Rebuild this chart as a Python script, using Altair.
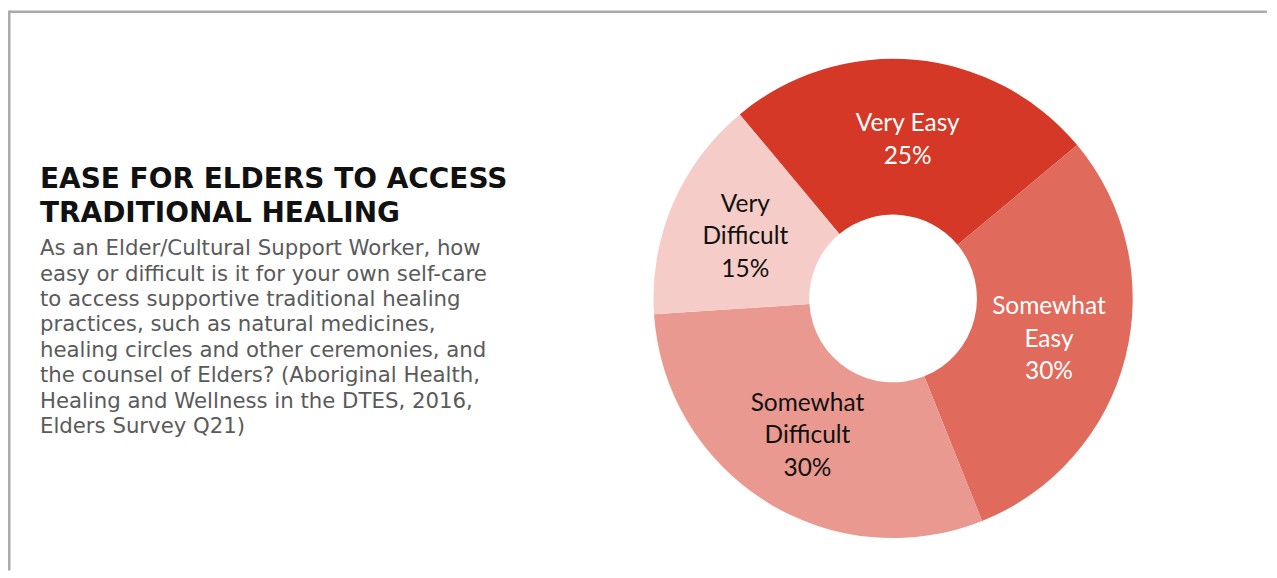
import altair as alt
import pandas as pd

# ---- data ----
categories = ["Very Easy", "Somewhat Easy", "Somewhat Difficult", "Very Difficult"]
values = [25, 30, 30, 15]
slice_labels = ["Very Easy\n25%", "Somewhat\nEasy\n30%", "Somewhat\nDifficult\n30%", "Very\nDifficult\n15%"]
palette = ["#D53826", "#E06A5B", "#E9998F", "#F5CCC7"]
label_colors = ["#FFFFFF", "#FFFFFF", "#111111", "#111111"]

title_lines = ["EASE FOR ELDERS TO ACCESS", "TRADITIONAL HEALING"]
body_lines = [
    "As an Elder/Cultural Support Worker, how",
    "easy or difficult is it for your own self-care",
    "to access supportive traditional healing",
    "practices, such as natural medicines,",
    "healing circles and other ceremonies, and",
    "the counsel of Elders? (Aboriginal Health,",
    "Healing and Wellness in the DTES, 2016,",
    "Elders Survey Q21)",
]

df = pd.DataFrame({
    "category": categories,
    "value": values,
    "label": slice_labels,
    "order": list(range(len(categories))),
})

W, H = 1261, 562
CX, CY = 886.5, 289.5
START = 5.5886
TWO_PI = 6.283185307
LH = 32.5

theta = alt.Theta("value:Q", stack=True, scale=alt.Scale(range=[START, START + TWO_PI]))
order = alt.Order("order:Q", sort="ascending")

arcs = alt.Chart(df).mark_arc(outerRadius=240, innerRadius=84).encode(
    theta=theta,
    order=order,
    color=alt.Color("category:N", scale=alt.Scale(domain=categories, range=palette), legend=None),
    x=alt.value(CX),
    y=alt.value(CY),
)


def label_layer(n_lines):
    return alt.Chart(df).transform_calculate(
        shown=f"length(split(datum.label, '\\n')) == {n_lines} ? datum.label : ''"
    ).mark_text(
        radius=161, font="Lato", fontSize=24.5, lineBreak="\n", lineHeight=LH,
        align="center", baseline="middle", dy=2 - (n_lines - 1) * LH / 2,
    ).encode(
        theta=theta,
        order=order,
        text="shown:N",
        color=alt.Color("category:N", scale=alt.Scale(domain=categories, range=label_colors), legend=None),
        x=alt.value(CX),
        y=alt.value(CY),
    )


labels2 = label_layer(2)
labels3 = label_layer(3)

title = alt.Chart(pd.DataFrame({"t": ["\n".join(title_lines)]})).mark_text(
    font="DejaVu Sans", fontWeight="bold", fontSize=28, color="#111111",
    align="left", baseline="alphabetic", lineBreak="\n", lineHeight=34.5,
).encode(text="t:N", x=alt.value(32), y=alt.value(178.7))

body = alt.Chart(pd.DataFrame({"t": ["\n".join(body_lines)]})).mark_text(
    font="DejaVu Sans", fontSize=21.3, color="#5A5A5A",
    align="left", baseline="alphabetic", lineBreak="\n", lineHeight=25.5,
).encode(text="t:N", x=alt.value(32), y=alt.value(246))

border_top = alt.Chart(pd.DataFrame({"k": [0]})).mark_rule(color="#ABABAB", strokeWidth=2.5).encode(
    x=alt.value(1.3), x2=alt.value(W), y=alt.value(2.3)
)
border_left = alt.Chart(pd.DataFrame({"k": [0]})).mark_rule(color="#ABABAB", strokeWidth=2.5).encode(
    x=alt.value(1.3), y=alt.value(1.0), y2=alt.value(H)
)

chart = alt.layer(border_top, border_left, arcs, labels2, labels3, title, body).resolve_scale(
    color="independent"
).properties(
    width=W, height=H, padding=0, background="white"
).configure_view(stroke=None)

chart.save("out.html", embed_options={"renderer": "svg", "actions": False})
